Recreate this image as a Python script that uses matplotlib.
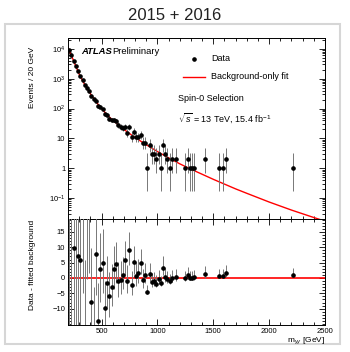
import numpy as np
import matplotlib
matplotlib.use('Agg')
import matplotlib.pyplot as plt
from matplotlib.patches import Rectangle
from matplotlib.ticker import MultipleLocator, LogLocator, FixedLocator, FixedFormatter, NullFormatter

plt.rcParams['font.family'] = ['Liberation Sans', 'DejaVu Sans']
plt.rcParams['mathtext.fontset'] = 'custom'
plt.rcParams['mathtext.rm'] = 'Liberation Sans'
plt.rcParams['mathtext.it'] = 'Liberation Sans:italic'
plt.rcParams['mathtext.bf'] = 'Liberation Sans:bold'

# diphoton invariant mass, bin centres (20 GeV bins)
mass = [210, 230, 250, 270, 290, 310, 330, 350, 370, 390,
        410, 430, 450, 470, 490, 510, 530, 550, 570, 590,
        610, 630, 650, 670, 690, 710, 730, 750, 770, 790,
        810, 830, 850, 870, 890, 910, 930, 950, 970, 990,
        1010, 1030, 1050, 1070, 1090, 1110, 1130, 1170, 1250, 1270,
        1290, 1310, 1330, 1430, 1550, 1590, 1610, 2210]

# observed events per bin
counts = [9180, 5980, 3990, 2600, 1747, 1206, 895, 610, 497, 380,
          272, 201, 178, 124, 115, 96, 64, 60, 46, 41,
          41, 37, 28, 24, 22, 25, 15, 24, 11, 17,
          11, 11, 13, 7, 7, 1, 6, 3, 3, 2,
          3, 1, 6, 3, 2, 1, 2, 2, 1, 2,
          1, 1, 1, 2, 1, 1, 2, 1]

# data minus fitted background
resid = [60, -50, 9.9, -30, 7.2, 5.9, 25, -20, 22, 21,
         -7.7, -18, 7.7, -13.9, 2.9, 5.0, -9.9, -1.7, -5.9, -2.8,
         2.9, 4.5, -1.0, -0.5, 1.0, 5.9, -0.9, 9.1, -2.3, 5.3,
         0.7, 1.7, 4.8, -0.7, 1.0, -4.5, 1.3, -1.2, -1.0, -1.8,
         -0.4, -1.7, 3.4, 0.4, -0.3, -1.1, 0.1, 0.4, -0.1, 0.9,
         0.1, 0.1, 0.2, 1.4, 0.7, 0.7, 1.6, 1.0]

# background-only fit
fit_mass = [200, 250, 300, 350, 400, 450, 500, 550, 600, 700,
            800, 900, 1000, 1100, 1200, 1300, 1400, 1500, 1600, 1700,
            1800, 2000, 2200, 2400, 2500]
fit_val = [11200, 3980, 1410, 631, 316, 170, 100, 61.7, 40.7, 20.0,
           10.7, 6.17, 3.63, 2.24, 1.41, 0.933, 0.631, 0.427, 0.295, 0.204,
           0.145, 0.0741, 0.0398, 0.0224, 0.0170]

mass = np.array(mass, dtype=float)
counts = np.array(counts, dtype=float)
resid = np.array(resid, dtype=float)

# Poisson 68% intervals (Gehrels approximation)
lo = counts * (1 - 1 / (9 * counts) - 1 / (3 * np.sqrt(counts))) ** 3
hi = counts + np.sqrt(counts + 0.75) + 1
err_lo = counts - lo
err_hi = hi - counts

W, H = 350, 352
fig = plt.figure(figsize=(W / 100, H / 100), dpi=100)

# card behind the plot
card = Rectangle((5 / W, 1 - 344 / H), 335 / W, 320 / H, transform=fig.transFigure,
                 fc='white', ec='#d6d6d6', lw=1.5, zorder=-10)
fig.patches.append(card)

fig.text(0.5, 1 - 15 / H, '2015 + 2016', ha='center', va='center',
         fontsize=12, color='#222222')

ax1 = fig.add_axes([68 / W, 1 - 219 / H, 257 / W, 181 / H])
ax2 = fig.add_axes([68 / W, 1 - 325 / H, 257 / W, 106 / H], sharex=ax1)

# top panel: spectrum + fit
ax1.plot(fit_mass, fit_val, color='red', lw=1.0, zorder=2)
ax1.errorbar(mass, counts, yerr=[err_lo, err_hi], fmt='o', ms=2.3, mfc='black', mec='black',
             ecolor='#777777', elinewidth=0.7, capsize=0, zorder=3)
ax1.set_yscale('log')
ax1.set_xlim(200, 2500)
ax1.set_ylim(0.02, 2.3e4)
ax1.yaxis.set_major_locator(FixedLocator([0.1, 1, 10, 100, 1000, 10000]))
ax1.yaxis.set_major_formatter(FixedFormatter(
    [r'10$^{-1}$', '1', '10', r'10$^{2}$', r'10$^{3}$', r'10$^{4}$']))
ax1.yaxis.set_minor_locator(LogLocator(base=10, subs=np.arange(2, 10), numticks=20))
ax1.yaxis.set_minor_formatter(NullFormatter())
ax1.set_ylabel('Events / 20 GeV', fontsize=6, loc='top')
ax1.yaxis.set_label_coords(-0.125, 0.95)

# legend and labels
ax1.text(0.051, 0.928, 'ATLAS', transform=ax1.transAxes, fontsize=6.8,
         fontweight='bold', fontstyle='italic', va='center')
ax1.text(0.174, 0.928, 'Preliminary', transform=ax1.transAxes, fontsize=6.8, va='center')
ax1.plot([0.49], [0.884], 'o', ms=2.3, color='black', transform=ax1.transAxes)
ax1.text(0.556, 0.884, 'Data', transform=ax1.transAxes, fontsize=6.5, va='center')
ax1.plot([0.447, 0.533], [0.785, 0.785], color='red', lw=1.0, transform=ax1.transAxes)
ax1.text(0.556, 0.785, 'Background-only fit', transform=ax1.transAxes, fontsize=6.5, va='center')
ax1.text(0.428, 0.668, 'Spin-0 Selection', transform=ax1.transAxes, fontsize=6.5, va='center')
ax1.text(0.428, 0.558, r'$\sqrt{s}$ = 13 TeV, 15.4 fb$^{-1}$', transform=ax1.transAxes,
         fontsize=6.5, va='center')

# bottom panel: residuals
ax2.axhline(0, color='red', lw=1.2, zorder=2)
ax2.errorbar(mass, resid, yerr=[err_lo, err_hi], fmt='o', ms=2.3, mfc='black', mec='black',
             ecolor='#777777', elinewidth=0.7, capsize=0, zorder=3)
ax2.set_ylim(-15.3, 19.2)
ax2.yaxis.set_major_locator(FixedLocator([-10, -5, 0, 5, 10, 15]))
ax2.yaxis.set_minor_locator(MultipleLocator(1))
ax2.xaxis.set_major_locator(MultipleLocator(500))
ax2.xaxis.set_minor_locator(MultipleLocator(100))
ax2.set_ylabel('Data - fitted background', fontsize=6, loc='top')
ax2.yaxis.set_label_coords(-0.125, 0.99)
ax2.set_xlabel(r'm$_{\gamma\gamma}$ [GeV]', fontsize=6, loc='right')
ax2.xaxis.set_label_coords(1.0, -0.10)

for ax in (ax1, ax2):
    ax.tick_params(which='both', direction='in', top=True, right=True, width=0.6,
                   labelsize=5.5, pad=2)
    ax.tick_params(which='major', length=4.5)
    ax.tick_params(which='minor', length=2.2)
    for s in ax.spines.values():
        s.set_linewidth(0.7)
ax1.tick_params(labelbottom=False)

fig.savefig('out.png', dpi=100)
